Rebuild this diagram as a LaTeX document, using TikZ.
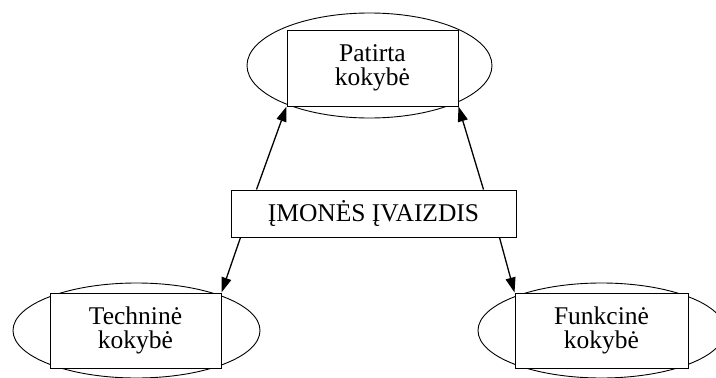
\documentclass[tikz,border=0pt]{standalone}
\usepackage{fontspec}
\setmainfont{Liberation Serif}
\usetikzlibrary{arrows.meta}
\begin{document}
\begin{tikzpicture}[x=1pt,y=-1pt,
  box/.style={draw,line width=1pt,fill=white,align=center,inner sep=0pt,
    font=\fontsize{25.5}{24}\selectfont},
  halo/.style={draw,line width=0.9pt},
  arr/.style={line width=1.3pt,-{Triangle[length=15pt,width=10pt]}}]
\useasboundingbox (0,0) rectangle (716,378);
% ellipses behind the boxes
\begin{scope}
\clip (0,0) rectangle (716,378);
\draw[halo] (369.5,65.5) ellipse [x radius=122.5pt, y radius=52.5pt];
\draw[halo] (136.5,330.5) ellipse [x radius=123.5pt, y radius=47.5pt];
\draw[halo] (601.5,330.5) ellipse [x radius=123.5pt, y radius=47.5pt];
\end{scope}
% boxes
\node[box,minimum width=171pt,minimum height=76pt] (top) at (372.5,68) {Patirta\\kokybė};
\node[box,minimum width=285pt,minimum height=47pt] (img) at (373.5,213.5) {ĮMONĖS ĮVAIZDIS};
\node[box,minimum width=171pt,minimum height=75pt] (tech) at (135.5,330.5) {Techninė\\kokybė};
\node[box,minimum width=173pt,minimum height=75pt] (func) at (601.5,330.5) {Funkcinė\\kokybė};
% connectors
\draw[arr] ([xshift=26pt]img.north west) -- (top.south west);
\draw[arr] ([xshift=-33pt]img.north east) -- (top.south east);
\draw[arr] ([xshift=10pt]img.south west) -- (tech.north east);
\draw[arr] ([xshift=-17pt]img.south east) -- (func.north west);
\end{tikzpicture}
\end{document}
